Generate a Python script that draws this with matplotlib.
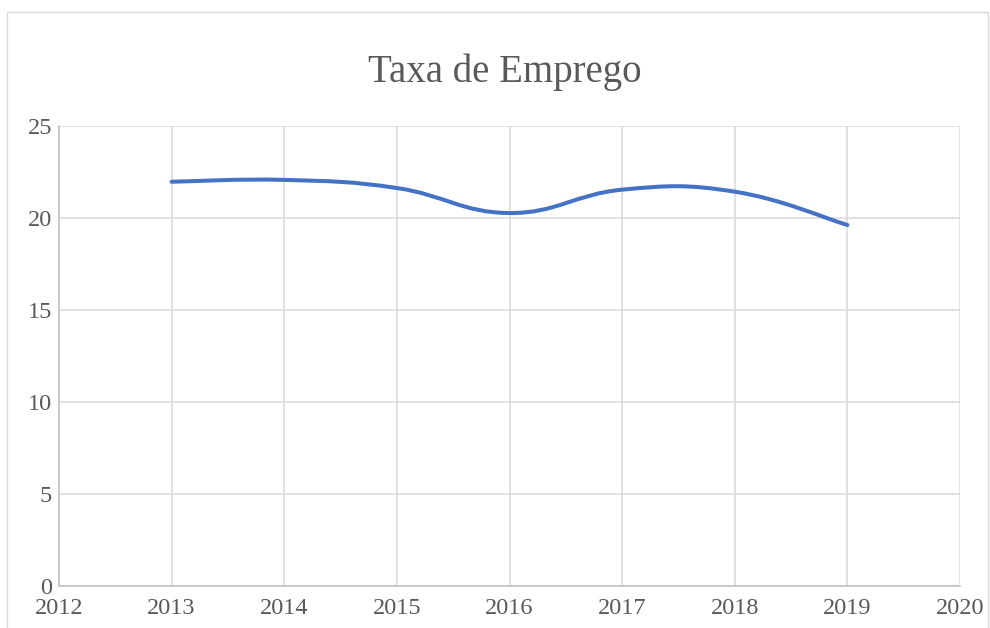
import matplotlib.pyplot as plt
from matplotlib.path import Path
from matplotlib.patches import PathPatch, Rectangle
import numpy as np

# dados
anos = [2013, 2014, 2015, 2016, 2017, 2018, 2019]
taxa = [21.97, 22.07, 21.63, 20.27, 21.54, 21.43, 19.62]
xticks = [2012, 2013, 2014, 2015, 2016, 2017, 2018, 2019, 2020]
yticks = [0, 5, 10, 15, 20, 25]

plt.rcParams['font.family'] = ['Liberation Serif', 'DejaVu Serif']
cor_txt = '#595959'

fig = plt.figure(figsize=(9.9, 6.28), dpi=100)
fig.patches.append(Rectangle((7/990, -0.05), 981/990, 1 - 12/628 + 0.05,
                             transform=fig.transFigure, fill=False,
                             edgecolor='#d9d9d9', linewidth=1))
ax = fig.add_axes([59/990, 1 - 586/628, 901/990, 460/628])

# linha suavizada estilo Excel (bezier)
pts = np.column_stack([anos, taxa]).astype(float)
verts = [tuple(pts[0])]
codes = [Path.MOVETO]
n = len(pts)
k = 0.21
for i in range(n - 1):
    p0 = pts[i - 1] if i > 0 else pts[i]
    p1 = pts[i]
    p2 = pts[i + 1]
    p3 = pts[i + 2] if i + 2 < n else pts[i + 1]
    c1 = p1 + (p2 - p0) * k
    c2 = p2 - (p3 - p1) * k
    verts += [tuple(c1), tuple(c2), tuple(p2)]
    codes += [Path.CURVE4] * 3
ax.add_patch(PathPatch(Path(verts, codes), facecolor='none', edgecolor='#4472C4',
                       linewidth=2.9, capstyle='round', zorder=3))

ax.set_xlim(2012, 2020)
ax.set_ylim(0, 25)
ax.set_xticks(xticks)
ax.set_yticks(yticks)
ax.grid(True, color='#d9d9d9', linewidth=1.1)
ax.set_axisbelow(True)
for s in ['top', 'right']:
    ax.spines[s].set_visible(False)
for s in ['left', 'bottom']:
    ax.spines[s].set_color('#bfbfbf')
    ax.spines[s].set_linewidth(1.1)
ax.tick_params(length=0, labelsize=17.5, labelcolor=cor_txt)
ax.tick_params(axis='x', pad=9)
ax.tick_params(axis='y', pad=5)

fig.text(505/990, 1 - 72/628, 'Taxa de Emprego', ha='center', va='center',
         fontsize=28, color=cor_txt)

fig.savefig('out.png', dpi=100)
